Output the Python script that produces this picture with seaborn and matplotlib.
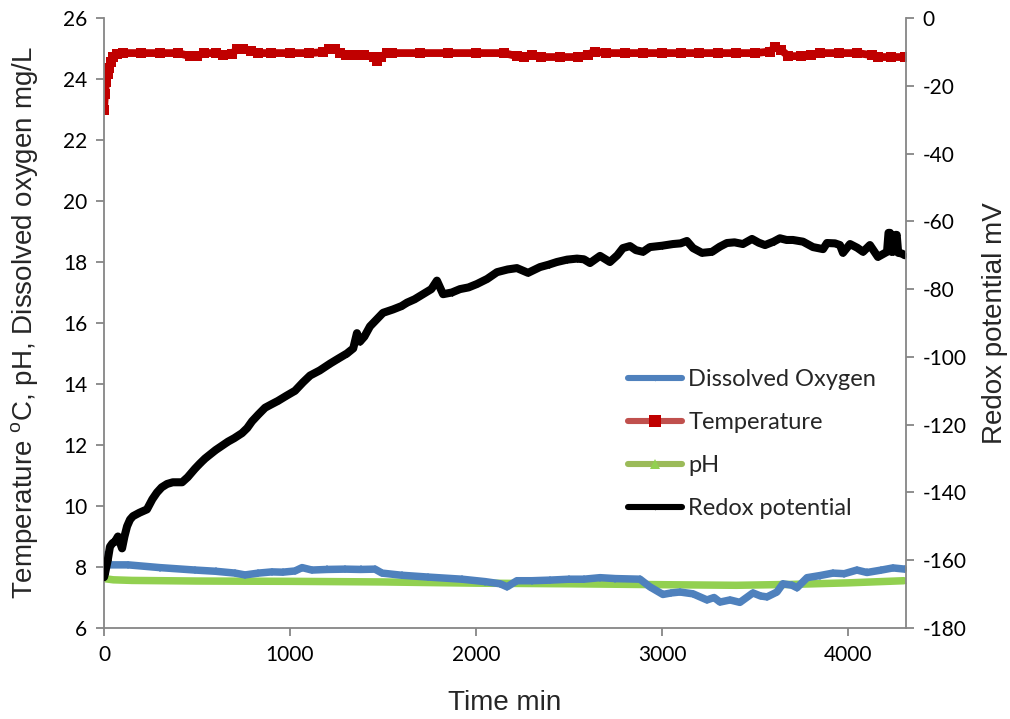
import matplotlib
matplotlib.use("Agg")
import matplotlib.pyplot as plt
from matplotlib.lines import Line2D
import seaborn as sns

# ---- data -------------------------------------------------------------
redox_t = [0, 5, 20, 32, 45, 59, 75, 97, 110, 124, 140, 156, 190, 231, 260, 285,
           310, 339, 370, 420, 450, 489, 515, 543, 600, 667, 700, 742, 770, 796,
           830, 866, 900, 935, 980, 1027, 1070, 1108, 1160, 1215, 1260, 1306,
           1340, 1360, 1376, 1400, 1430, 1465, 1500, 1554, 1600, 1629, 1670, 1715,
           1760, 1790, 1823, 1870, 1914, 1960, 2005, 2060, 2113, 2170, 2220, 2280,
           2344, 2390, 2435, 2490, 2543, 2580, 2613, 2667, 2720, 2760, 2790, 2828,
           2860, 2898, 2935, 3000, 3059, 3100, 3134, 3167, 3215, 3269, 3310, 3349,
           3390, 3435, 3484, 3520, 3554, 3600, 3634, 3670, 3704, 3758, 3812, 3866,
           3887, 3930, 3957, 3973, 4011, 4050, 4081, 4118, 4161, 4210, 4218, 4226,
           4234, 4242, 4255, 4262, 4270, 4290, 4305]
redox_mv = [-165, -164, -160, -156, -155, -154.5, -153, -156.5, -153, -150, -148,
            -147, -146, -145, -142, -140, -138.5, -137.5, -137, -137, -135.5, -133,
            -131.5, -130, -127.5, -125, -124, -122.5, -121, -119, -117, -115, -114,
            -113, -111.5, -110, -107.5, -105.5, -104, -102, -100.5, -99, -97.5, -93,
            -95.5, -94, -91, -89, -87, -86, -85, -84, -83, -81.5, -80, -77.5, -81.5,
            -81, -80, -79.5, -78.5, -77, -75, -74.2, -73.8, -75.2, -73.5, -72.8, -72,
            -71.3, -71, -71.2, -72.3, -70.2, -72, -70, -67.9, -67.3, -68.5, -69,
            -67.6, -67.2, -66.7, -66.5, -65.8, -67.9, -69.3, -69, -67.5, -66.4,
            -66.2, -66.7, -65.2, -66.3, -67, -66, -65, -65.5, -65.5, -66, -67.6,
            -68.2, -66.4, -66.5, -67, -69.3, -66.7, -67.8, -69, -67, -70.5, -69,
            -63.4, -63.4, -69, -69, -64, -64, -69.3, -69.5, -70]

temp_t = [0, 5, 11, 22, 27, 38, 48, 70, 100, 200, 300, 400, 460, 500, 540, 600,
          640, 690, 715, 750, 790, 830, 900, 1000, 1100, 1180, 1210, 1240, 1270,
          1300, 1350, 1400, 1450, 1470, 1490, 1520, 1550, 1700, 1850, 2000, 2150,
          2220, 2260, 2300, 2350, 2450, 2550, 2600, 2640, 2700, 2800, 2900, 3000,
          3100, 3200, 3300, 3400, 3500, 3580, 3610, 3640, 3680, 3750, 3800, 3850,
          3950, 4050, 4130, 4160, 4230, 4305]
temp_c = [23.0, 23.5, 23.9, 24.15, 24.35, 24.55, 24.72, 24.82, 24.85, 24.85, 24.85,
          24.85, 24.75, 24.75, 24.85, 24.85, 24.8, 24.82, 25.0, 25.0, 24.92, 24.85,
          24.85, 24.85, 24.85, 24.88, 25.0, 25.0, 24.85, 24.78, 24.78, 24.78, 24.72,
          24.6, 24.72, 24.85, 24.85, 24.85, 24.85, 24.85, 24.85, 24.75, 24.72, 24.8,
          24.72, 24.72, 24.72, 24.8, 24.9, 24.85, 24.85, 24.85, 24.85, 24.85, 24.85,
          24.85, 24.85, 24.85, 24.9, 25.05, 24.95, 24.75, 24.75, 24.8, 24.85, 24.85,
          24.85, 24.78, 24.72, 24.72, 24.72]

do_t = [0, 20, 130, 300, 490, 600, 705, 758, 830, 903, 960, 1027, 1065, 1118, 1200,
        1296, 1380, 1457, 1495, 1600, 1742, 1925, 2050, 2130, 2167, 2220, 2300, 2398,
        2500, 2580, 2667, 2750, 2882, 2935, 3005, 3050, 3097, 3167, 3242, 3280, 3312,
        3366, 3419, 3489, 3530, 3565, 3618, 3650, 3700, 3726, 3780, 3850, 3919, 3980,
        4048, 4102, 4180, 4242, 4306]
do_mg = [8.4, 8.07, 8.07, 7.98, 7.9, 7.86, 7.8, 7.74, 7.8, 7.84, 7.83, 7.87, 7.98,
         7.9, 7.92, 7.93, 7.92, 7.93, 7.8, 7.73, 7.67, 7.6, 7.52, 7.45, 7.35, 7.55,
         7.55, 7.57, 7.6, 7.6, 7.65, 7.62, 7.6, 7.35, 7.1, 7.15, 7.18, 7.12, 6.92, 7.0,
         6.85, 6.92, 6.84, 7.15, 7.05, 7.02, 7.18, 7.45, 7.4, 7.32, 7.65, 7.72, 7.8,
         7.78, 7.9, 7.82, 7.9, 7.97, 7.93]

ph_t = [0, 50, 150, 500, 1000, 1500, 2000, 2500, 3000, 3400, 3700, 4000, 4300]
ph_val = [7.62, 7.58, 7.56, 7.54, 7.53, 7.51, 7.47, 7.45, 7.42, 7.40, 7.43, 7.48, 7.55]

left_ticks = list(range(6, 27, 2))
right_ticks = list(range(-180, 1, 20))
x_ticks = [0, 1000, 2000, 3000, 4000]

# ---- styling ----------------------------------------------------------
sns.set_style("white")
plt.rcParams["font.family"] = ["Lato", "DejaVu Sans"]
plt.rcParams["mathtext.fontset"] = "custom"
plt.rcParams["mathtext.rm"] = "Liberation Sans"
plt.rcParams["axes.unicode_minus"] = False

GREY = "#868686"
BLUE_LINE, BLUE_MK = "#4F81BD", "#4F81BD"
RED_LINE, RED_MK = "#C0504D", "#C00000"
GREEN_LINE, GREEN_MK = "#9BBB59", "#92D050"
BLACK = "#000000"

fig = plt.figure(figsize=(10.10, 7.19), dpi=100)
ax = fig.add_axes([104 / 1010, 1 - 628 / 719, (906 - 104) / 1010, (628 - 18) / 719])
ax2 = ax.twinx()

common = dict(sort=False, estimator=None, legend=False,
              solid_joinstyle="round", solid_capstyle="round")

sns.lineplot(x=ph_t, y=ph_val, ax=ax, color=GREEN_MK, marker="^", linewidth=5.4,
             markersize=4, markeredgewidth=0, **common)
sns.lineplot(x=do_t, y=do_mg, ax=ax, color=BLUE_MK, marker="D", linewidth=5.4,
             markersize=4, markeredgewidth=0, **common)
sns.lineplot(x=temp_t, y=temp_c, ax=ax, color=RED_MK, marker="s", linewidth=5.6,
             markersize=6.5, markeredgewidth=0, **common)
sns.lineplot(x=redox_t, y=redox_mv, ax=ax2, color=BLACK, marker="D", linewidth=5.8,
             markersize=3.5, markeredgewidth=0, **common)

# ---- axes -------------------------------------------------------------
ax.set_xlim(0, 4312)
ax.set_ylim(6, 26)
ax2.set_ylim(-180, 0)
ax.set_xticks(x_ticks)
ax.set_yticks(left_ticks)
ax2.set_yticks(right_ticks)

for a in (ax, ax2):
    for side in ("left", "right", "bottom"):
        a.spines[side].set_color(GREY)
        a.spines[side].set_linewidth(1.3)
    a.spines["top"].set_visible(False)
ax.spines["right"].set_visible(False)
ax2.spines["left"].set_visible(False)
ax2.spines["bottom"].set_visible(False)

ax.tick_params(axis="both", which="major", direction="out", length=6, width=1.3,
               color=GREY, labelsize=15, labelcolor="#000000", pad=6,
               left=True, bottom=True)
ax2.tick_params(axis="y", direction="out", length=6, width=1.3, color=GREY,
                labelsize=15, labelcolor="#000000", pad=6, right=True)

label_font = dict(family=["Liberation Sans", "DejaVu Sans"], fontsize=20)
ax.set_xlabel("Time min", labelpad=18, **label_font)
ax.set_ylabel(r"Temperature $^{\mathrm{o}}$C, pH, Dissolved oxygen mg/L",
              labelpad=16, **label_font)
ax2.set_ylabel("Redox potential mV", labelpad=11, **label_font)

# ---- legend -----------------------------------------------------------
handles = [
    Line2D([0, 0.5, 1], [0, 0, 0], color=BLUE_LINE, lw=4.4, solid_capstyle="round",
           marker="D", markersize=3, markerfacecolor=BLUE_MK, markeredgewidth=0,
           markevery=[1]),
    Line2D([0, 0.5, 1], [0, 0, 0], color=RED_LINE, lw=4.4, solid_capstyle="round",
           marker="s", markersize=8, markerfacecolor=RED_MK, markeredgewidth=0,
           markevery=[1]),
    Line2D([0, 0.5, 1], [0, 0, 0], color=GREEN_LINE, lw=4.4, solid_capstyle="round",
           marker="^", markersize=7, markerfacecolor=GREEN_MK, markeredgewidth=0,
           markevery=[1]),
    Line2D([0, 0.5, 1], [0, 0, 0], color=BLACK, lw=4.4, solid_capstyle="round",
           marker="D", markersize=3, markerfacecolor=BLACK, markeredgewidth=0,
           markevery=[1]),
]
labels = ["Dissolved Oxygen", "Temperature", "pH", "Redox potential"]
leg = ax2.legend(handles, labels, loc="upper left",
                 bbox_to_anchor=(628 / 1010, 1 - 369 / 719),
                 bbox_transform=fig.transFigure, frameon=False, fontsize=17,
                 handlelength=2.3, handletextpad=0.25, labelspacing=0.93,
                 borderpad=0, borderaxespad=0)

fig.savefig("out.png", dpi=100)
